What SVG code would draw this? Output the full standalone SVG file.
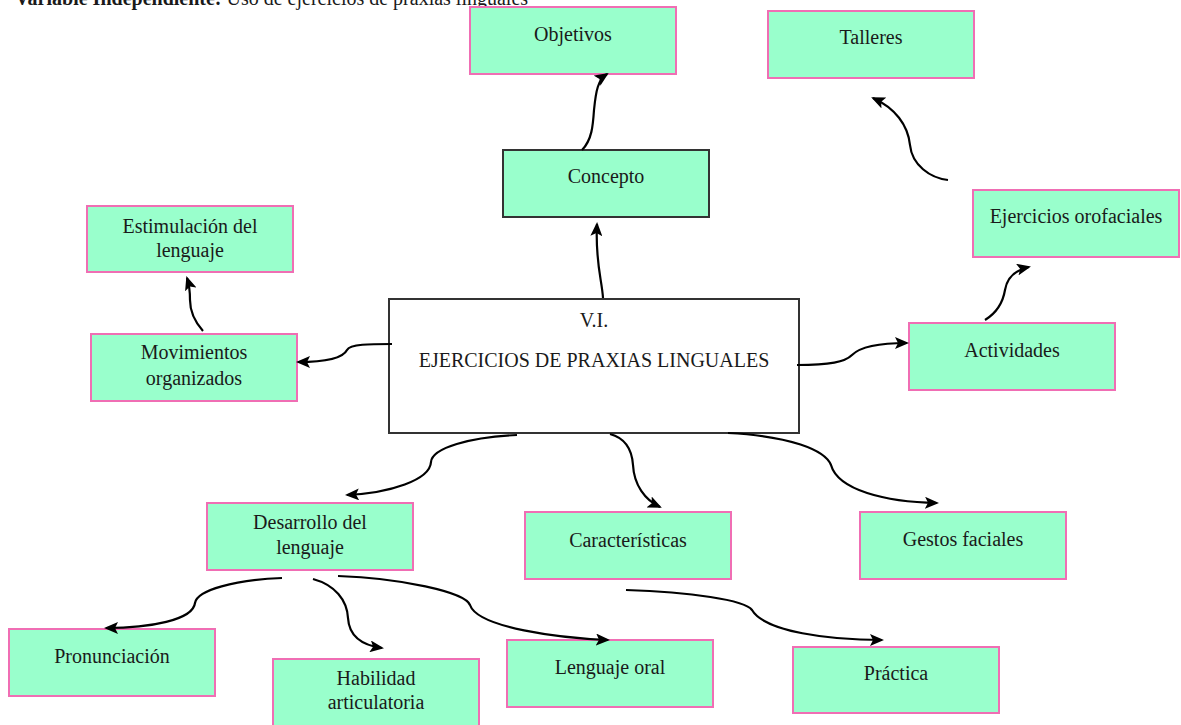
<svg xmlns="http://www.w3.org/2000/svg" width="1181" height="725" viewBox="0 0 1181 725">
<style>
.box{fill:#99FFCC;stroke:#F06EB4;stroke-width:2}
.dark{fill:#99FFCC;stroke:#333333;stroke-width:2}
.main{fill:#FFFFFF;stroke:#333333;stroke-width:2}
text{font-family:"Liberation Serif","Times New Roman",serif;font-size:20px;fill:#1a1a1a;text-anchor:middle}
.con path{fill:none;stroke:#000;stroke-width:2.2;marker-end:url(#ah)}
</style>
<defs>
<marker id="ah" markerUnits="userSpaceOnUse" markerWidth="14" markerHeight="12" viewBox="0 0 14 12" refX="12" refY="6" orient="auto">
<path d="M0,0 L14,6 L0,12 L3,6 Z" fill="#000"/>
</marker>
</defs>
<rect width="1181" height="725" fill="#FFFFFF"/>
<text x="15" y="5" style="text-anchor:start"><tspan font-weight="bold">Variable Independiente:</tspan> Uso de ejercicios de praxias linguales</text>

<g id="central"><rect class="main" x="389" y="299" width="410" height="134"/><text x="594" y="327">V.I.</text><text x="594" y="367">EJERCICIOS DE PRAXIAS LINGUALES</text></g>
<g id="objetivos"><rect class="box" x="470" y="7" width="206" height="67"/><text x="573" y="41">Objetivos</text></g>
<g id="talleres"><rect class="box" x="768" y="11" width="206" height="67"/><text x="871" y="44">Talleres</text></g>
<g id="concepto"><rect class="dark" x="503" y="150" width="206" height="67"/><text x="606" y="183">Concepto</text></g>
<g id="estimulacion"><rect class="box" x="87" y="206" width="206" height="66"/><text x="190" y="233">Estimulación del</text><text x="190" y="257">lenguaje</text></g>
<g id="movimientos"><rect class="box" x="91" y="334" width="206" height="67"/><text x="194" y="359">Movimientos</text><text x="194" y="385">organizados</text></g>
<g id="orofaciales"><rect class="box" x="973" y="190" width="206" height="67"/><text x="1076" y="223">Ejercicios orofaciales</text></g>
<g id="actividades"><rect class="box" x="909" y="323" width="206" height="67"/><text x="1012" y="357">Actividades</text></g>
<g id="desarrollo"><rect class="box" x="207" y="503" width="206" height="67"/><text x="310" y="529">Desarrollo del</text><text x="310" y="554">lenguaje</text></g>
<g id="caracteristicas"><rect class="box" x="525" y="512" width="206" height="67"/><text x="628" y="547">Características</text></g>
<g id="gestos"><rect class="box" x="860" y="512" width="206" height="67"/><text x="963" y="546">Gestos faciales</text></g>
<g id="pronunciacion"><rect class="box" x="9" y="629" width="206" height="67"/><text x="112" y="663">Pronunciación</text></g>
<g id="habilidad"><rect class="box" x="273" y="659" width="206" height="67"/><text x="376" y="685">Habilidad</text><text x="376" y="709">articulatoria</text></g>
<g id="lenguajeoral"><rect class="box" x="507" y="640" width="206" height="67"/><text x="610" y="674">Lenguaje oral</text></g>
<g id="practica"><rect class="box" x="793" y="647" width="206" height="66"/><text x="896" y="680">Práctica</text></g>

<g id="connectors" class="con">
<path d="M582,150 C592,140 593,125 594,110 C596,90 598,80 607,74"/>
<path d="M603,298 C602,280 595,262 597,224"/>
<path d="M392,344 C370,344 350,344 347,350 C343,358 325,362 298,362"/>
<path d="M203,331 C195,322 190,312 190,300 C190,290 189,284 187,278"/>
<path d="M797,365 C830,365 845,362 852,355 C860,347 880,343 907,343"/>
<path d="M985,320 C998,312 1003,302 1005,290 C1007,278 1015,270 1029,267"/>
<path d="M948,180 C930,178 912,165 910,145 C908,125 895,108 873,98"/>
<path d="M517,435 C470,437 432,448 431,462 C430,480 390,493 347,495"/>
<path d="M610,434 C625,438 632,450 633,465 C634,485 645,500 660,507"/>
<path d="M728,433 C790,436 825,450 831,465 C838,490 885,502 937,503"/>
<path d="M282,578 C235,580 197,590 195,603 C193,620 150,628 106,628"/>
<path d="M313,579 C335,585 347,600 348,618 C349,635 360,645 382,648"/>
<path d="M338,576 C400,578 465,592 470,605 C478,628 560,638 608,640"/>
<path d="M626,590 C690,592 745,600 752,610 C765,632 830,640 882,640"/>
</g>
</svg>
